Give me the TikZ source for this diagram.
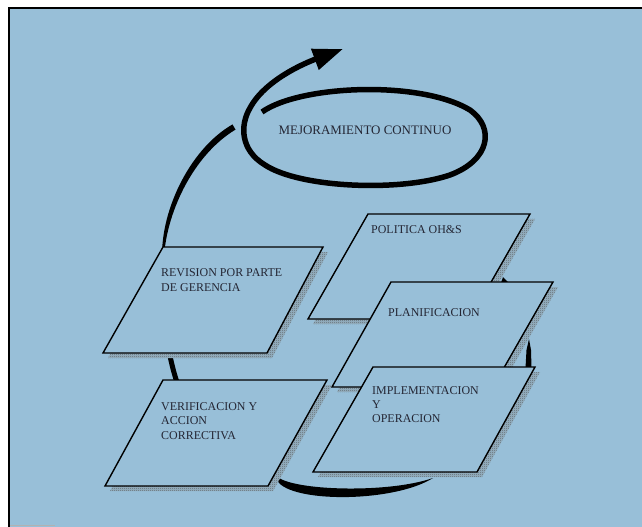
\documentclass[tikz,border=0pt]{standalone}
\usepackage{fontspec}
\setmainfont{Liberation Serif}
\usetikzlibrary{arrows.meta,patterns}
\definecolor{bgblue}{RGB}{152,191,216}
\definecolor{txt}{RGB}{36,38,52}
\pgfdeclarepatternformonly{finedots}{\pgfqpoint{0bp}{0bp}}{\pgfqpoint{2bp}{2bp}}{\pgfqpoint{2bp}{2bp}}{%
  \pgfpathrectangle{\pgfqpoint{0bp}{0bp}}{\pgfqpoint{1bp}{1bp}}\pgfusepath{fill}}
\newcommand\pgrambox[4]{%
  \fill[shadowbase] ([shift={(5,5)}]#1) -- ([shift={(5,5)}]#2) -- ([shift={(5,5)}]#3) -- ([shift={(5,5)}]#4) -- cycle;
  \fill[shadowfill] ([shift={(5,5)}]#1) -- ([shift={(5,5)}]#2) -- ([shift={(5,5)}]#3) -- ([shift={(5,5)}]#4) -- cycle;
  \filldraw[box] (#1) -- (#2) -- (#3) -- (#4) -- cycle;}
\begin{document}
\begin{tikzpicture}[x=1bp,y=-1bp,
  box/.style={fill=bgblue,draw=black,line width=1.4bp,line join=miter},
  shadowbase/.style={fill=gray!35!bgblue},
  shadowfill/.style={pattern=finedots,pattern color=black!70},
  cyc/.style={line width=5.5bp,draw=black},
  lbl/.style={inner sep=0pt,anchor=north west,align=left,text=txt,font=\fontsize{12}{14.5}\selectfont}]
\useasboundingbox (0,0) rectangle (642,527);
\fill[white] (0,0) rectangle (642,527);
\fill[bgblue] (9,8) rectangle (642,527);
\draw[line width=2bp] (9,527) -- (9,8) -- (642,8);
\draw[gray!60,line width=1bp] (10,525) -- (55,525);

% left part of the cycle (hidden behind boxes, visible between them)
\coordinate (aS) at (182,395);
\coordinate (aM) at (163,262);
\draw[line width=5bp] (aS) .. controls (166,360) and (161,300) .. (aM);
% tapered stroke from the corner of the review box up to the ellipse
\fill (162.3,262) .. controls (159,214.7) and (187.9,150.2) .. (232.5,124.4)
      -- (235.5,129.6) .. controls (192.1,155.8) and (165,215.3) .. (163.7,262) -- cycle;

% ellipse spiral with the outgoing arrow
\coordinate (eS) at (262,112);
\coordinate (eT) at (343,49);
\draw[cyc,-{Triangle[length=30bp,width=21bp]}] (eS)
   .. controls (300,85) and (420,80) .. (470,110)
   .. controls (495,128) and (490,160) .. (450,175)
   .. controls (400,192) and (300,188) .. (265,165)
   .. controls (240,150) and (240,125) .. (250,108)
   .. controls (265,80) and (305,63) .. (eT);

% bottom crescent stroke
\fill (279,478) .. controls (300,491) and (390,493) .. (433,478)
      .. controls (395,502) and (298,503) .. (279,483)
      .. controls (277,482) and (277,479) .. (279,478) -- cycle;

% right spike and small arrow tip
\fill (525.5,368) -- (531.5,368) -- (531,350) -- (529,339) -- (526.5,350) -- cycle;
\coordinate (rS) at (508,300);
\coordinate (rT) at (503,277);
\draw[line width=3bp,-{Triangle[length=7bp,width=8bp]}] (rS) -- (rT);

% boxes
\pgrambox{368,214}{530,214}{470,319}{308,319}
\node[lbl] (pol) at (371,225) {POLITICA OH\&S};
\pgrambox{391,282}{553,282}{493,387}{332,387}
\node[lbl] (plan) at (388,308) {PLANIFICACION};
\pgrambox{373,367}{535,367}{477,472}{313,472}
\node[lbl,font=\fontsize{12}{14}\selectfont] (impl) at (372,386) {IMPLEMENTACION\\Y\\OPERACION};
\pgrambox{163,247}{323,247}{267,353}{103,353}
\node[lbl,font=\fontsize{12}{15}\selectfont] (rev) at (161,268) {REVISION POR PARTE\\DE GERENCIA};
\pgrambox{163,380}{327,380}{268,486}{105,486}
\node[lbl] (ver) at (161,402) {VERIFICACION Y\\ACCION\\CORRECTIVA};

\node[inner sep=0pt,text=txt,font=\fontsize{13}{15}\selectfont] (mej) at (365,130) {MEJORAMIENTO CONTINUO};
\end{tikzpicture}
\end{document}
